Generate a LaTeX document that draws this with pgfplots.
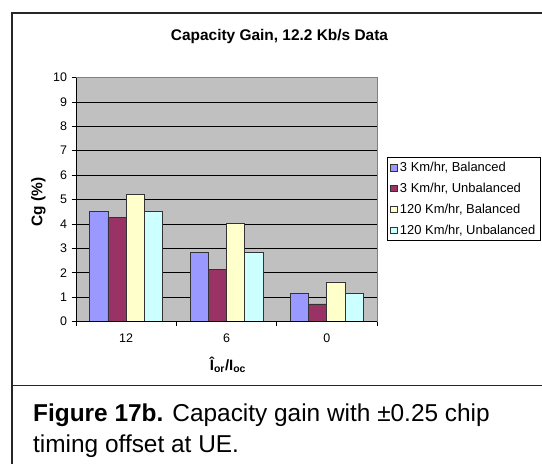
\documentclass[border=0pt]{standalone}
\usepackage{fontspec}
\setmainfont{Liberation Sans}
\usepackage{pgfplots}
\pgfplotsset{compat=1.18}
\definecolor{plotgray}{RGB}{192,192,192}
\definecolor{cblue}{RGB}{153,153,255}
\definecolor{cmaroon}{RGB}{153,51,102}
\definecolor{cyellow}{RGB}{255,255,204}
\definecolor{ccyan}{RGB}{204,255,255}
\begin{document}
\begin{tikzpicture}
\path[use as bounding box] (0bp,0bp) rectangle (542bp,-464bp);
\draw[line width=1.1bp, black!85] (545bp,-13bp) -- (12bp,-13bp) -- (12bp,-466bp);
\draw[line width=1.1bp, black!85] (12bp,-385.5bp) -- (545bp,-385.5bp);
\begin{axis}[
  at={(76bp,-321.5bp)}, anchor=south west,
  scale only axis, width=301bp, height=244bp,
  xmin=-0.5, xmax=2.5, ymin=0, ymax=10, enlargelimits=false,
  clip=false,
  ytick={0,1,...,10},
  xtick={-0.5,0.5,1.5,2.5}, xticklabels={},
  extra x ticks={0,1,2}, extra x tick labels={12,6,0},
  extra x tick style={major tick length=0pt, grid=none},
  ymajorgrids, grid style={black, line width=0.6bp},
  axis background/.style={fill=plotgray},
  axis line style={draw=black!50, line width=0.9bp},
  tick align=outside, ytick pos=left, xtick pos=bottom,
  major tick length=4.5bp,
  tick style={black, line width=0.7bp},
  tick label style={font=\fontsize{12.5}{14}\selectfont},
  xticklabel style={yshift=-9bp},
  yticklabel style={xshift=-1bp},
  /pgf/number format/assume math mode=true,
  ybar, bar width=18.2bp,
  legend style={at={(axis description cs:1.0332,0.6742)}, anchor=north west,
    draw=black, line width=0.8bp, font=\fontsize{13}{15}\selectfont,
    inner sep=3bp, row sep=6bp, cells={anchor=west},
    nodes={inner xsep=2.5bp}},
  legend image code/.code={\draw[#1, line width=0.6bp] (0bp,-3bp) rectangle (6.5bp,3.5bp);},
]
\addplot[fill=cblue, draw=black!80, line width=0.7bp, bar shift=-27.3bp] coordinates {(0,4.5) (1,2.82) (2,1.16)};
\addlegendentry{3 Km/hr, Balanced}
\addplot[fill=cmaroon, draw=black!80, line width=0.7bp, bar shift=-9.1bp] coordinates {(0,4.26) (1,2.12) (2,0.72)};
\addlegendentry{3 Km/hr, Unbalanced}
\addplot[fill=cyellow, draw=black!80, line width=0.7bp, bar shift=9.1bp] coordinates {(0,5.2) (1,4.02) (2,1.62)};
\addlegendentry{120 Km/hr, Balanced}
\addplot[fill=ccyan, draw=black!80, line width=0.7bp, bar shift=27.3bp] coordinates {(0,4.5) (1,2.82) (2,1.16)};
\addlegendentry{120 Km/hr, Unbalanced}
\draw[black, line width=0.9bp] (rel axis cs:0,1) -- (rel axis cs:0,0) -- (rel axis cs:1,0);
\end{axis}
\node[anchor=base, inner sep=0, font=\bfseries\fontsize{15.5}{18}\selectfont] at (279.5bp,-40bp) {Capacity Gain, 12.2 Kb/s Data};
\node[rotate=90, inner sep=0, font=\bfseries\fontsize{15.5}{18}\selectfont] at (38.5bp,-202bp) {Cg (\%)};
\node[inner sep=0, font=\bfseries\fontsize{15}{17}\selectfont] at (228bp,-365bp) {Î\textsubscript{or}/I\textsubscript{oc}};
\node[anchor=base west, inner sep=0, font=\fontsize{24.5}{30}\selectfont] at (33bp,-421.7bp) {\textbf{Figure 17b.} Capacity gain with ±0.25 chip};
\node[anchor=base west, inner sep=0, font=\fontsize{24.5}{30}\selectfont] at (33bp,-452bp) {timing offset at UE.};
\end{tikzpicture}
\end{document}
